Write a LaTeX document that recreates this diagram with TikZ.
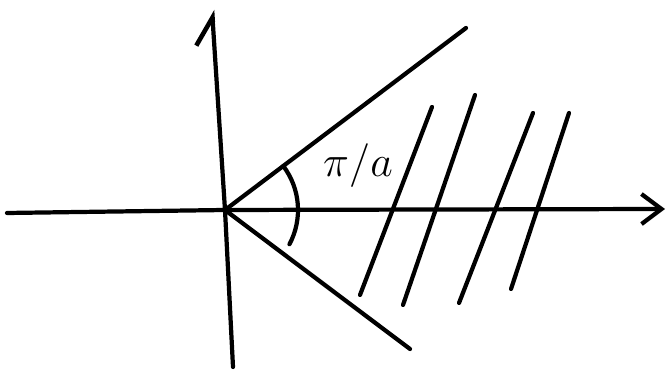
\documentclass[tikz,border=0pt]{standalone}
\usepackage{amsmath}
\usepackage{tikz}
\usetikzlibrary{arrows.meta, positioning, calc}

\begin{document}
\begin{tikzpicture}[
    pen/.style={line width=2.4pt, line cap=round, line join=round, black},
    axisarr/.style={pen, -{Straight Barb[length=4mm, width=6mm, line width=2.4pt]}},
    uparr/.style={pen, -{Straight Barb[left, length=5.4mm, width=7.2mm, line width=2.6pt]}},
    hatch/.style={pen},
    lbl/.style={font=\fontsize{30}{32}\selectfont}
]
\useasboundingbox (0,0) rectangle (13.42,7.4);

% axes
\coordinate (o) at (4.50,3.20);
\coordinate (xl) at (0.14,3.14);
\coordinate (xr) at (13.30,3.22);
\coordinate (yb) at (4.66,0.06);
\coordinate (yt) at (4.24,7.20);
\draw[pen] (xl) -- (o);
\draw[axisarr] (o) -- (xr);
\draw[pen] (yb) -- (o);
\draw[uparr] (o) -- (yt);

% wedge
\coordinate (up) at (9.32,6.84);
\coordinate (dn) at (8.20,0.42);
\draw[pen] (o) -- (up);
\draw[pen] (o) -- (dn);
\draw[pen] ($(o)+(37:1.46)$) arc[start angle=37, end angle=-28, radius=1.46];
\node[lbl] (ang) at (7.16,4.08) {$\pi/a$};

% shaded region
\foreach \xa/\ya/\xb/\yb in {8.64/5.26/7.20/1.50, 9.50/5.50/8.06/1.30,
                              10.66/5.14/9.18/1.34, 11.38/5.14/10.22/1.62}
  \draw[hatch] (\xa,\ya) -- (\xb,\yb);
\end{tikzpicture}
\end{document}
